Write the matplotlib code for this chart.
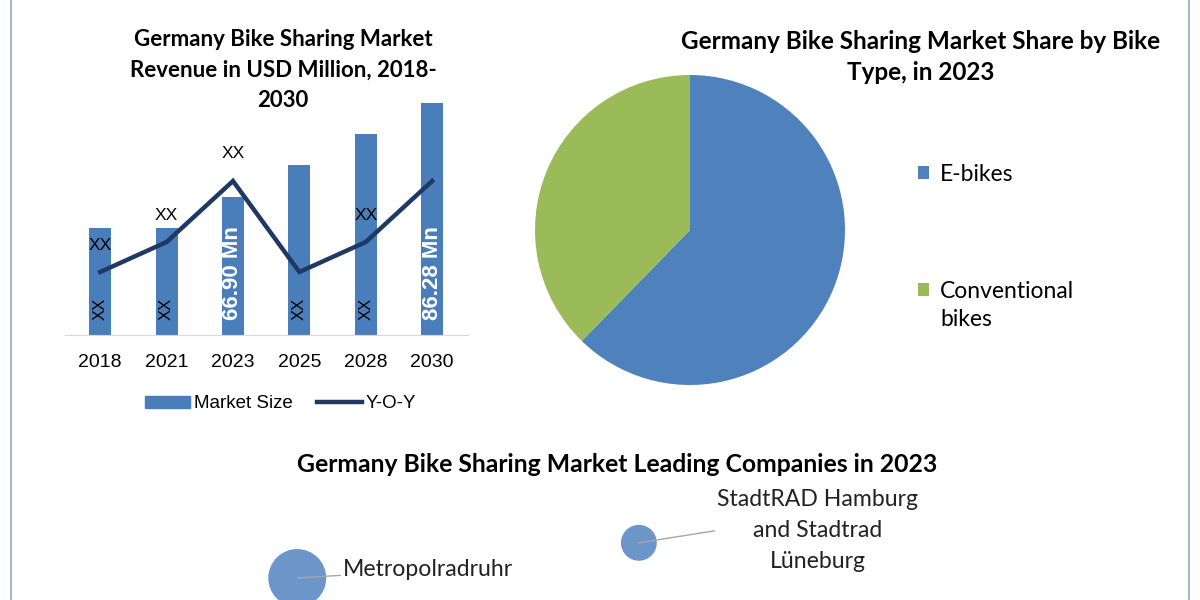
import matplotlib
matplotlib.use("Agg")
import matplotlib.pyplot as plt
from matplotlib.lines import Line2D
from matplotlib.patches import Patch

# data
years = ["2018", "2021", "2023", "2025", "2028", "2030"]
market_size = [60.5, 60.5, 66.90, 73.5, 79.9, 86.28]
yoy = [6.3, 9.3, 15.4, 6.3, 9.3, 15.4]
bar_labels = ["XX", "XX", "66.90 Mn", "XX", "XX", "86.28 Mn"]
yoy_labels = ["XX", "XX", "XX", "", "XX", ""]

bike_types = ["E-bikes", "Conventional"]
bike_share = [62.3, 37.7]

companies = ["Metropolradruhr", "StadtRAD Hamburg\nand Stadtrad\nLüneburg"]
comp_x = [2.43, 5.33]
comp_y = [0.55, 1.43]
comp_size = [3.0, 1.15]

BLUE = "#4A7EBB"
NAVY = "#1F3864"
PIE_BLUE = "#4F81BD"
PIE_GREEN = "#9BBB59"
BUBBLE = "#6C96CA"
TITLE_FONT = "Lato"

W, H = 1200, 600
fig = plt.figure(figsize=(12, 6), dpi=100)
fig.patch.set_facecolor("white")


def rect(left, top, right, bottom):
    # pixel box -> figure fraction
    return [left / W, 1 - bottom / H, (right - left) / W, (bottom - top) / H]


# ---- left: bar + line chart
ax = fig.add_axes(rect(65, 95, 468, 335))
x = list(range(len(years)))
ax.bar(x, market_size, width=0.33, color=BLUE, zorder=2)
ax.set_xlim(-0.53, 5.54)
ax.set_ylim(38.45, 87.9)
ax.set_xticks(x)
ax.set_xticklabels(years, fontsize=14, family="Liberation Sans")
ax.tick_params(axis="x", length=0, pad=14)
ax.set_yticks([])
for s in ["top", "left", "right"]:
    ax.spines[s].set_visible(False)
ax.spines["bottom"].set_color("#d9d9d9")

for i, lab in enumerate(bar_labels):
    if lab == "XX":
        ax.text(i, 41.5, lab, rotation=90, ha="center", va="bottom",
                fontsize=12, family="Liberation Sans", color="black", zorder=5)
    else:
        ax.text(i, 41.5, lab, rotation=90, ha="center", va="bottom",
                fontsize=16, family="Liberation Sans", fontweight="bold",
                color="white", zorder=5)

ax2 = ax.twinx()
ax2.plot(x, yoy, color=NAVY, linewidth=3.2, solid_joinstyle="miter", zorder=3)
ax2.set_ylim(0, 24)
ax2.set_yticks([])
for s in ax2.spines.values():
    s.set_visible(False)
for i, lab in enumerate(yoy_labels):
    if lab:
        ax2.text(i, yoy[i] + 2.7, lab, ha="center", va="center",
                 fontsize=12.5, family="Liberation Sans")

fig.text(283 / W, 1 - 70 / H,
         "Germany Bike Sharing Market\nRevenue in USD Million, 2018-\n2030",
         ha="center", va="center", fontsize=16, fontweight="bold",
         family=TITLE_FONT, linespacing=1.55)

handles = [Patch(color=BLUE), Line2D([], [], color=NAVY, linewidth=3.2)]
fig.legend(handles, ["Market Size", "Y-O-Y"], loc="center",
           bbox_to_anchor=(281 / W, 1 - 404 / H), ncol=2, frameon=False,
           prop={"family": "Liberation Sans", "size": 13.5},
           handlelength=2.4, handleheight=0.6, handletextpad=0.2,
           columnspacing=1.3)

# ---- pie chart
axp = fig.add_axes(rect(535, 75, 845, 385))
wedges, _ = axp.pie(bike_share, colors=[PIE_BLUE, PIE_GREEN], startangle=90,
                    counterclock=False, radius=1,
                    wedgeprops={"linewidth": 0})
axp.set_xlim(-1, 1)
axp.set_ylim(-1, 1)
axp.set_aspect("equal")
axp.axis("off")

fig.text(921 / W, 1 - 57 / H,
         "Germany Bike Sharing Market Share by Bike\nType, in 2023",
         ha="center", va="center", fontsize=17.5, fontweight="bold",
         family=TITLE_FONT, linespacing=1.45)

leg = fig.legend(wedges, bike_types, loc="upper left",
                 bbox_to_anchor=(897 / W, 1 - 143 / H), frameon=False,
                 prop={"family": TITLE_FONT, "size": 16.5},
                 handlelength=0.5, handleheight=0.5, handletextpad=0.45,
                 labelspacing=4.2)
fig.text(940 / W, 1 - 320 / H, "bikes", ha="left", va="center",
         fontsize=16.5, family=TITLE_FONT)

# ---- bubble chart of leading companies
axb = fig.add_axes(rect(11, 480, 1189, 600))
axb.set_xlim(0, 10)
axb.set_ylim(0, 3)
axb.axis("off")
axb.scatter(comp_x, comp_y, s=[v * 580 for v in comp_size], color=BUBBLE,
            edgecolors="none", zorder=3, clip_on=False)
axb.annotate(companies[0], xy=(comp_x[0], comp_y[0]), xytext=(2.82, 0.75),
             ha="left", va="center", fontsize=16.6, family=TITLE_FONT,
             color="#222222",
             arrowprops={"arrowstyle": "-", "color": "#a6a6a6", "lw": 1,
                         "shrinkA": 0, "shrinkB": 0})
axb.annotate(companies[1], xy=(comp_x[1], comp_y[1]), xytext=(6.85, 1.74),
             ha="center", va="center", fontsize=16.6, family=TITLE_FONT,
             color="#222222", linespacing=1.6,
             arrowprops={"arrowstyle": "-", "color": "#a6a6a6", "lw": 1,
                         "shrinkA": 0, "shrinkB": 0,
                         "relpos": (0.0, 0.5)})

fig.text(617 / W, 1 - 465 / H,
         "Germany Bike Sharing Market Leading Companies in 2023",
         ha="center", va="center", fontsize=17.8, fontweight="bold",
         family=TITLE_FONT)

# thin frame lines at the sides
for xp in (11, 1189):
    fig.add_artist(Line2D([xp / W, xp / W], [0, 1], color="#8ea9c8",
                          linewidth=1.2))

fig.savefig("out.png", dpi=100, facecolor="white")
